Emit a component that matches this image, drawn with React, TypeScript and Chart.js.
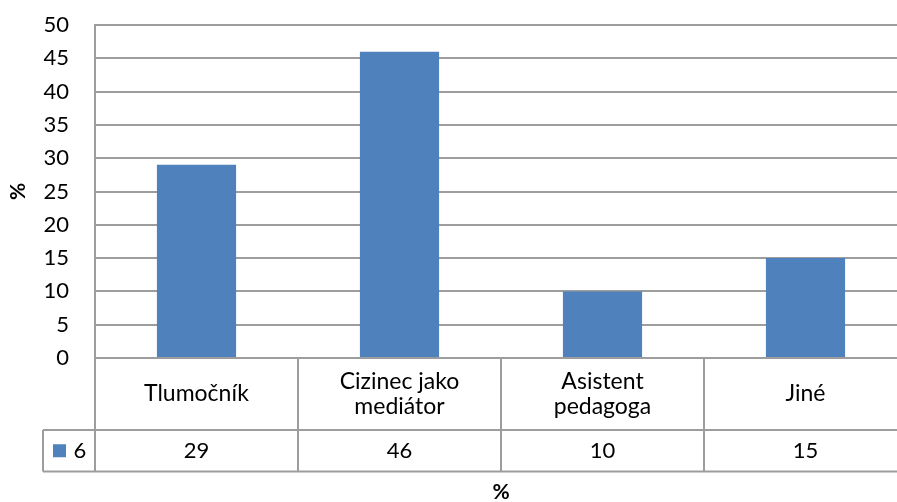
import { useEffect, useRef } from 'react';
import { Chart, registerables } from 'chart.js';

Chart.register(...registerables);

// Category labels (one array entry per line of the label)
const categories: string[][] = [['Tlumočník'], ['Cizinec jako', 'mediátor'], ['Asistent', 'pedagoga'], ['Jiné']];
const seriesName = '6';
const values = [29, 46, 10, 15];
const yMin = 0;
const yMax = 50;
const yStep = 5;
const yTitle = '%';
const xTitle = '%';

const BAR_COLOR = '#4F81BD';
const LINE_COLOR = '#9d9d9d';
const FONT = 'Lato, "Open Sans", sans-serif';

// Draws the data table under the plot: category row, value row and the legend key cell.
const dataTablePlugin = {
  id: 'dataTable',
  afterDraw(chart: Chart) {
    const ctx = chart.ctx;
    const xs = chart.scales.x;
    const { left, right, bottom } = chart.chartArea;
    const colW = xs.getPixelForValue(1) - xs.getPixelForValue(0);
    const row1Top = bottom;
    const row1Bottom = bottom + 72;
    const row2Bottom = row1Bottom + 41.5;
    const keyLeft = 43;

    ctx.save();
    ctx.strokeStyle = LINE_COLOR;
    ctx.lineWidth = 2;
    ctx.beginPath();
    // horizontal rules
    ctx.moveTo(keyLeft, row1Bottom);
    ctx.lineTo(right, row1Bottom);
    ctx.moveTo(keyLeft, row2Bottom);
    ctx.lineTo(right, row2Bottom);
    // vertical rules at category boundaries
    for (let i = 0; i <= categories.length; i++) {
      const x = left + i * colW;
      ctx.moveTo(x, row1Top);
      ctx.lineTo(x, row2Bottom);
    }
    ctx.moveTo(keyLeft, row1Bottom);
    ctx.lineTo(keyLeft, row2Bottom);
    ctx.stroke();

    ctx.fillStyle = '#000';
    ctx.textAlign = 'center';
    ctx.textBaseline = 'middle';
    const lineH = 25;
    const row1Mid = (row1Top + row1Bottom) / 2;
    const row2Mid = (row1Bottom + row2Bottom) / 2;
    categories.forEach((lines, i) => {
      const cx = xs.getPixelForValue(i);
      const startY = row1Mid - ((lines.length - 1) * lineH) / 2;
      ctx.font = `23px ${FONT}`;
      lines.forEach((ln, j) => ctx.fillText(ln, cx, startY + j * lineH));
      ctx.font = `22px ${FONT}`;
      ctx.fillText(String(values[i]), cx, row2Mid);
    });

    // legend key
    ctx.fillStyle = BAR_COLOR;
    ctx.fillRect(53, row2Mid - 6.5, 13, 13);
    ctx.fillStyle = '#000';
    ctx.font = `22px ${FONT}`;
    ctx.fillText(seriesName, 80, row2Mid);

    // horizontal axis title
    ctx.font = `bold 21px ${FONT}`;
    ctx.fillText(xTitle, (left + right) / 2, 492);
    ctx.restore();
  },
};

export default function App() {
  const canvasRef = useRef<HTMLCanvasElement>(null);

  useEffect(() => {
    const canvas = canvasRef.current;
    if (!canvas) return;
    const chart = new Chart(canvas, {
      type: 'bar',
      data: {
        labels: categories.map((c) => c.join(' ')),
        datasets: [
          {
            label: seriesName,
            data: values,
            backgroundColor: BAR_COLOR,
            borderWidth: 0,
            barPercentage: 0.39,
            categoryPercentage: 1,
          },
        ],
      },
      options: {
        responsive: false,
        animation: false,
        devicePixelRatio: 1,
        layout: { padding: { top: 25, left: 0, right: 0, bottom: 0 } },
        plugins: {
          legend: { display: false },
          tooltip: { enabled: false },
          title: { display: false },
        },
        scales: {
          x: {
            ticks: { display: false },
            grid: { display: false },
            border: { display: true, color: LINE_COLOR, width: 2 },
            afterFit: (s: any) => {
              s.height = 144;
              s.paddingLeft = 0;
              s.paddingRight = 0;
            },
          },
          y: {
            min: yMin,
            max: yMax,
            ticks: {
              stepSize: yStep,
              padding: 26,
              color: '#000',
              font: { family: FONT, size: 22 },
            },
            grid: { color: LINE_COLOR, lineWidth: 2, drawTicks: false },
            border: { display: true, color: LINE_COLOR, width: 2 },
            title: {
              display: true,
              text: yTitle,
              color: '#000',
              font: { family: FONT, size: 21, weight: 'bold' },
              padding: { top: 6, bottom: 0 },
            },
            afterFit: (s: any) => {
              s.width = 95;
              s.paddingTop = 0;
              s.paddingBottom = 0;
            },
          },
        },
      },
      plugins: [dataTablePlugin],
    });
    return () => chart.destroy();
  }, []);

  return (
    <div
      style={{
        position: 'fixed',
        left: 0,
        top: 0,
        width: 897,
        height: 502,
        overflow: 'hidden',
        background: '#fff',
      }}
    >
      <canvas ref={canvasRef} width={907} height={502} style={{ display: 'block' }} />
    </div>
  );
}
